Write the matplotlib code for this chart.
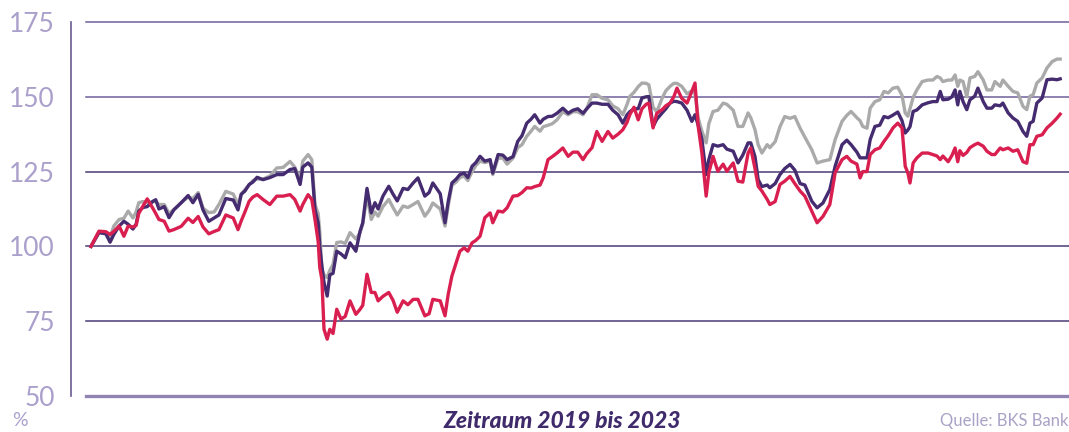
"""
Kursentwicklung 2019-2023 (indexiert, Start = 100).
Drei Reihen: dunkelviolett, grau, rot. Quelle: BKS Bank.
"""
import numpy as np
import matplotlib
matplotlib.use("Agg")
import matplotlib.pyplot as plt

# Tage seit 01.01.2019
tage = [
    0, 15, 28, 36, 43, 53, 62, 70, 79, 85, 90, 98, 106, 117, 122, 128, 138, 147,
    156, 170, 183, 192, 202, 211, 222, 232, 241, 254, 268, 277, 283, 290, 298,
    305, 313, 324, 337, 350, 362, 375, 384, 394, 399, 409, 416, 422, 428, 431,
    435, 439, 445, 450, 456, 463, 471, 479, 488, 499, 507, 512, 520, 528, 535,
    541, 550, 561, 569, 577, 588, 597, 607, 616, 629, 637, 644, 658, 667, 673,
    680, 688, 695, 703, 710, 718, 725, 733, 742, 752, 757, 767, 776, 784, 795,
    804, 812, 821, 829, 836, 846, 852, 861, 869, 878, 889, 899, 908, 917, 927,
    934, 944, 953, 963, 974, 983, 993, 1002, 1010, 1015, 1023, 1031, 1038, 1046,
    1051, 1059, 1066, 1076, 1083, 1091, 1098, 1104, 1113, 1123, 1132, 1138,
    1144, 1151, 1159, 1164, 1172, 1181, 1191, 1198, 1210, 1219, 1228, 1238,
    1243, 1251, 1257, 1264, 1274, 1279, 1289, 1298, 1307, 1317, 1326, 1336,
    1345, 1358, 1368, 1379, 1392, 1402, 1415, 1424, 1432, 1443, 1449, 1454,
    1462, 1468, 1477, 1486, 1494, 1502, 1511, 1520, 1528, 1534, 1539, 1543,
    1549, 1556, 1566, 1577, 1586, 1594, 1600, 1605, 1615, 1622, 1628, 1633,
    1637, 1643, 1650, 1656, 1665, 1671, 1681, 1688, 1697, 1703, 1713, 1718,
    1728, 1737, 1746, 1756, 1763, 1769, 1775, 1782, 1792, 1801, 1811, 1820, 1826,
]

violett = [
    100, 104.6, 104.2, 101.4, 104, 106.8, 108.4, 107.4, 105.8, 107.4, 111.8, 113,
    113.3, 115.1, 115.6, 112.5, 113.3, 109.6, 112.2, 114.6, 117, 114.6, 117.4,
    112.2, 108.4, 109.5, 110.5, 116, 115.5, 112.2, 117.4, 118.5, 120.7,
    121.5, 123.1, 122.3, 123, 124, 124, 125.7, 126, 120.7, 126.5, 127.9, 126.5,
    112.3, 107.9, 100, 93.4, 88, 83.4, 90.5, 91, 98.4, 97.5, 96.2, 101.2, 98.4,
    105.1, 107.9, 119.4, 111.2, 114.6, 112.5, 116.8, 120.1, 117.5, 115.2, 119.4,
    119, 121.2, 122.9, 116.8, 118, 121.2, 117.6, 107.9, 115, 121.2, 122.5, 124,
    124.5, 123, 126.8, 128, 130.1, 128.5, 129, 124.5, 130.7, 130.5, 129, 130,
    135.1, 137, 141.2, 142.5, 144, 141.2, 142.5, 143.4, 143.5, 144.5, 146.2,
    144.5, 145.5, 146, 144.5, 146, 147.9, 147.9, 147.5, 147.5, 145.5, 144,
    141.2, 144, 145, 146, 146, 149.6, 150, 150.1, 140.1, 142.5, 144.6, 146,
    147.9, 148.5, 148.4, 147.9, 145.5, 141.8, 144, 140.5, 135.7, 124, 129, 134,
    133.5, 134, 132.5, 131.8, 127.9, 130.5, 134.6, 134.6, 130, 122.3, 120,
    120.5, 119.6, 121, 124, 126, 127.4, 125.5, 121, 120.5, 115.1, 112.9, 114.5,
    119, 126.8, 134, 135.5, 134, 131.5, 129.6, 129.6, 129.6, 135.7, 140.1,
    140.5, 143.4, 143, 143.9, 144.9, 142, 137.9, 138.9, 140, 145.1, 145.6,
    147.3, 148, 148.4, 148.4, 151.8, 149, 149.2, 150, 152.3, 147.3, 151.8,
    148.4, 145.7, 149, 150.2, 152.9, 148.4, 146.2, 146.2, 147.3, 147, 147.9,
    144.6, 142.9, 141.8, 138.4, 136.8, 141.2, 141.8, 147.9, 149.6, 155.7,
    155.9, 155.7, 156,
]

grau = [
    100, 104.8, 104.5, 103, 106.8, 109, 109.4, 111.8, 109.5, 111.5, 114.6, 115,
    114.6, 115, 115, 114, 114, 111, 112.3, 114.6, 116.5, 116, 118, 112.8, 111.3,
    111.5, 114, 118.4, 117.5, 114, 117.5, 119, 120.5,
    122, 122.5, 122.5, 123.5, 126.2, 126.4, 128.4, 126.5, 122.3, 128.5, 130.7,
    129, 114, 111, 105, 92.5, 90.5, 89.6, 92, 94, 101.3, 101.5, 101, 104.6,
    102.5, 104.6, 107.5, 117, 109, 111.5, 110.1, 113.3, 115.7, 113, 110.5,
    113.5, 113, 114, 115, 110.1, 112, 114.5, 112.5, 106.8, 113.5, 120.5, 121.5,
    123, 123.5, 122, 125, 127, 128.5, 128, 128.5, 124, 129.5, 129.5, 127.5,
    129.5, 133, 134, 136.8, 138.5, 140.1, 138.5, 140, 140.5, 141, 142.3, 145,
    144, 145, 145, 144, 146, 150.7, 150.7, 149.5, 149, 147, 146, 144, 147.5,
    150.1, 151.5, 153.4, 154.6, 154.5, 154, 146.5, 145, 149.5, 152, 153.5,
    154.5, 154.5, 153.5, 151, 152, 151, 142.9, 138.5, 134.6, 141, 145.1, 145.5,
    147.9, 147.5, 145.5, 140.1, 140.1, 144.6, 143, 139, 134, 131.2, 134, 133,
    135, 140, 143.4, 142.8, 143.4, 139.5, 136.5, 132.3, 127.9, 128.5, 129,
    135.7, 141.8, 143.8, 145.1, 143, 142, 140.1, 139.5, 146.2, 148.4, 149,
    151.8, 151.3, 152.9, 153.2, 150.5, 144.6, 143.5, 146, 149.8, 152.3, 155.1,
    155.6, 155.6, 156.8, 156.3, 155.1, 155.6, 155.6, 157.3, 153.5, 155.6, 155.1,
    150, 156.3, 156.8, 158.4, 155.6, 152.3, 152.3, 155.1, 153.5, 155.6, 153.5,
    151.8, 151.3, 146.8, 145.7, 150.2, 150.7, 154.6, 156.3, 159.6, 161.8,
    162.6, 162.6,
]

rot = [
    100, 105.1, 104.9, 104, 105, 106.8, 103.4, 106.8, 106.5, 107, 111, 113.5,
    115.9, 112.6, 111, 109, 108.4, 105.1, 105.6, 106.7, 109.4, 108, 110, 106.5,
    104.2, 105, 105.6, 110.5, 109.5, 105.6, 108.5, 111.5, 115.1,
    116.5, 117.3, 115.7, 114, 116.8, 116.8, 117.3, 115.7, 111.8, 114, 117.3,
    115.7, 109, 101.6, 93, 89, 72.3, 69, 72.3, 70.9, 79, 75.7, 76.6, 81.8, 77.3,
    79, 80.3, 90.7, 84.6, 84.6, 81.8, 83.3, 84.6, 82, 78, 81.8, 80.5, 82.3,
    82.3, 76.8, 77.5, 82.3, 81.8, 76.8, 84, 90.1, 94.5, 98.4, 99.5, 98.4, 101.2,
    102, 103.4, 109.6, 111.2, 107.9, 111.8, 111.5, 112.9, 116.8, 117, 118,
    119.6, 119.5, 120, 120.5, 122.9, 129, 130, 131.2, 132.9, 130.1, 131.5,
    131.5, 129, 131, 133, 138.4, 135.1, 138.4, 136.2, 137.5, 139, 141.5, 144,
    146.5, 142.3, 146, 147.5, 147.9, 139.6, 144.5, 145.7, 147, 147.9, 150,
    152.9, 149.5, 147.9, 151.8, 154.6, 140.1, 131.2, 116.8, 124.6, 130.1, 125.1,
    127.5, 125.1, 127.9, 121.8, 121.5, 131.2, 132.9, 126, 120.1, 118.5, 115.7,
    114, 115, 120.7, 121.8, 123.4, 121, 118.5, 116.8, 111.8, 107.9, 110, 114,
    124.6, 129, 130.1, 128.5, 127.5, 122.9, 125, 125, 130.7, 132.3, 132.9,
    135.1, 137, 139.6, 141.2, 139.6, 126.8, 124.6, 121.2, 127.9, 129.6, 131.2,
    131.2, 130.7, 130.2, 129, 130.2, 128.3, 130.4, 132.9, 128.3, 132, 130.4,
    131.4, 133, 134, 134.5, 133.5, 131.8, 130.7, 130.7, 132.9, 132.3, 132.9,
    131.8, 132.3, 128.3, 127.8, 134, 134, 136.8, 137.3, 139.6, 141.2, 142.9,
    144.2,
]

y_ticks = [50, 75, 100, 125, 150, 175]

C_VIOLETT = "#452b6f"
C_GRAU = "#aaaaaa"
C_ROT = "#d91f50"
C_LAVENDEL = "#aaa0cb"

W, H = 1069, 432
fig = plt.figure(figsize=(W / 100, H / 100), dpi=100)
ax = fig.add_axes([86 / W, 36 / H, 983 / W, 374 / H])

ax.set_xlim(-9.4, 1842.6)
ax.set_ylim(50, 175)

# Gitterlinien
for v in y_ticks:
    if v == 50:
        ax.axhline(v, color="#9184b3", lw=2.4, zorder=1, clip_on=False)
    elif v >= 150:
        ax.axhline(v, color="#6f5f98", lw=1.1, zorder=1, clip_on=False)
    else:
        ax.axhline(v, color="#4a3a74", lw=1.1, zorder=1, clip_on=False)

x = np.array(tage)
ax.plot(x, grau, color=C_GRAU, lw=2.4, zorder=2, solid_joinstyle="round")
ax.plot(x, violett, color=C_VIOLETT, lw=2.4, zorder=3, solid_joinstyle="round")
ax.plot(x, rot, color=C_ROT, lw=2.4, zorder=4, solid_joinstyle="round")

for s in ["top", "right", "bottom"]:
    ax.spines[s].set_visible(False)
ax.spines["left"].set_position(("outward", 10.8))
ax.spines["left"].set_color("#6b5b95")
ax.spines["left"].set_linewidth(1.2)

ax.set_xticks([])
ax.set_yticks(y_ticks)
ax.set_yticklabels([str(v) for v in y_ticks], fontsize=19, color=C_LAVENDEL,
                   family="Lato", fontweight="normal")
ax.tick_params(axis="y", length=0, pad=11.5)

fig.text(12 / W, 1 - 420 / H, "%", fontsize=14, color=C_LAVENDEL,
         family="Lato", fontweight="normal", va="center", ha="left")
fig.text(562 / W, 1 - 421 / H, "Zeitraum 2019 bis 2023", fontsize=16.5,
         color="#3f2a6b", family="Lato", fontweight="black", fontstyle="italic",
         va="center", ha="center")
fig.text(1068 / W, 1 - 421 / H, "Quelle: BKS Bank", fontsize=12,
         color="#aaa2c6", family="Lato", fontweight="normal", va="center", ha="right")

fig.savefig("out.png", dpi=100)
